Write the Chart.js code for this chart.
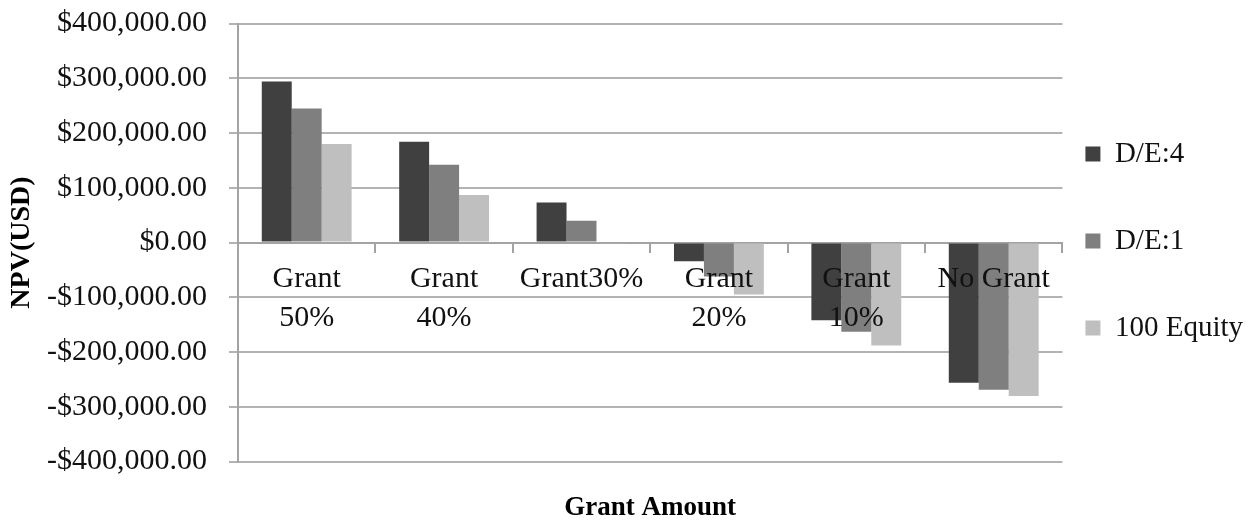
<!DOCTYPE html>
<html>
<head>
<meta charset="utf-8">
<script src="https://cdn.jsdelivr.net/npm/chart.js@4/dist/chart.umd.min.js"></script>
<style>
  body { margin: 0; background: #fff; }
  #wrap { width: 1253px; height: 524px; }
</style>
</head>
<body>
<div id="wrap"><canvas id="npvChart" width="1253" height="524"></canvas></div>
<script>
const categories = [["Grant", "50%"], ["Grant", "40%"], "Grant30%", ["Grant", "20%"], ["Grant", "10%"], "No Grant"];
const seriesNames = ["D/E:4", "D/E:1", "100 Equity"];
const de4 = [294000, 184000, 73000, -34000, -142000, -256000];
const de1 = [245000, 142000, 40000, -62000, -163000, -269000];
const equity = [180000, 87000, -2000, -95000, -188000, -280000];
const yMin = -400000, yMax = 400000, yStep = 100000;

const serif = "'Liberation Serif', 'Times New Roman', serif";
const gridGrey = "#b3b3b3";
const axisGrey = "#a3a3a3";

function money(v) {
    const s = "$" + Math.abs(v).toLocaleString("en-US", {minimumFractionDigits: 2, maximumFractionDigits: 2});
    return v < 0 ? "-" + s : s;
}

new Chart("npvChart", {
    type: "bar",
    data: {
        labels: categories,
        datasets: [
            {label: seriesNames[0], data: de4, backgroundColor: "#404040"},
            {label: seriesNames[1], data: de1, backgroundColor: "#7f7f7f"},
            {label: seriesNames[2], data: equity, backgroundColor: "#bfbfbf"}
        ]
    },
    options: {
        responsive: false,
        animation: false,
        categoryPercentage: 0.654,
        barPercentage: 1.0,
        layout: {padding: {left: 5, top: 6, right: 0, bottom: 0}},
        scales: {
            x: {
                position: {y: 0},
                grid: {display: true, drawOnChartArea: false, drawTicks: true, tickLength: 9, color: axisGrey, lineWidth: 2, offset: true},
                border: {display: true, color: axisGrey, width: 2},
                ticks: {z: 1, color: "#111", padding: 8, maxRotation: 0, autoSkip: false,
                        font: {family: serif, size: 30, lineHeight: 1.3}}
            },
            y: {
                min: yMin,
                max: yMax,
                grid: {color: gridGrey, lineWidth: 2, tickLength: 9, drawTicks: true},
                border: {display: true, color: axisGrey, width: 2},
                // small lineHeight only keeps the top label from padding the plot down
                ticks: {stepSize: yStep, padding: 22, color: "#111", callback: money,
                        font: {family: serif, size: 30, lineHeight: 0.1}},
                title: {display: true, text: "NPV(USD)", color: "#000", padding: {top: 0, bottom: 12},
                        font: {family: serif, size: 28, weight: "bold"}},
                afterFit: function(s) { s.width = 233; }
            },
            pad: {
                type: "linear",
                position: "right",
                display: true,
                grid: {display: false},
                border: {display: false},
                ticks: {display: false},
                afterFit: function(s) { s.width = 13; }
            }
        },
        plugins: {
            legend: {
                position: "right",
                labels: {
                    color: "#111",
                    boxWidth: 15,
                    boxHeight: 15,
                    padding: 10,
                    font: {family: serif, size: 29, lineHeight: 2.655},
                    generateLabels: function(chart) {
                        return Chart.defaults.plugins.legend.labels.generateLabels(chart)
                            .map(l => ({...l, text: [l.text]}));
                    }
                }
            },
            title: {
                display: true,
                position: "bottom",
                fullSize: false,
                text: "Grant Amount",
                color: "#000",
                padding: {top: 30, bottom: 0},
                font: {family: serif, size: 27, weight: "bold"}
            },
            tooltip: {enabled: false}
        }
    }
});
</script>
</body>
</html>
